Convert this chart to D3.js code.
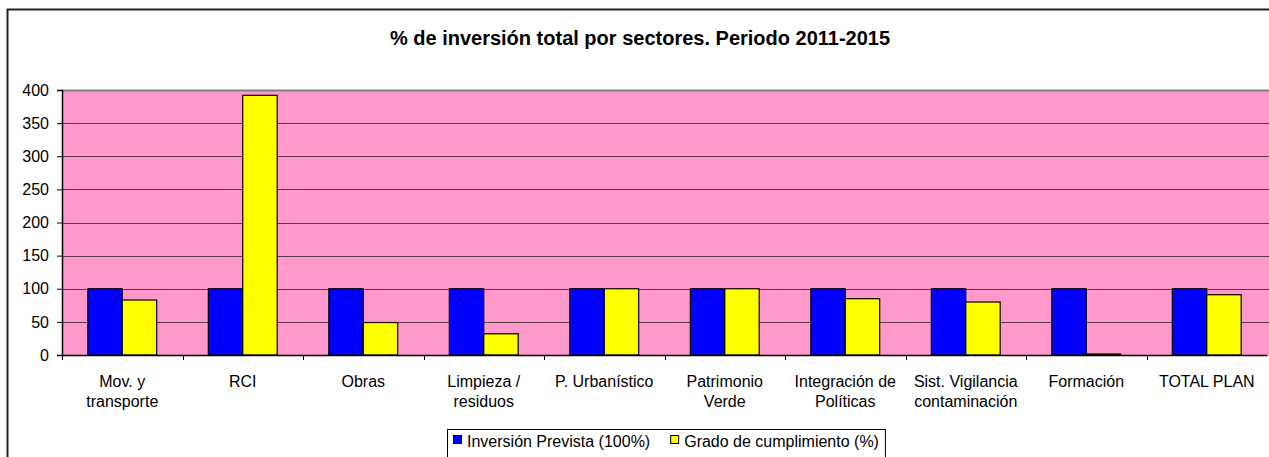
<!DOCTYPE html>
<html>
<head>
<meta charset="utf-8">
<script src="https://d3js.org/d3.v7.min.js"></script>
<style>
  body { margin: 0; background: #fff; }
  svg { display: block; font-family: "Liberation Sans", Arial, sans-serif; }
</style>
</head>
<body>
<div id="chart"></div>
<script>
// categories (x axis labels, split on \n)
var categories = ["Mov. y\ntransporte", "RCI", "Obras", "Limpieza /\nresiduos", "P. Urbanístico",
                  "Patrimonio\nVerde", "Integración de\nPolíticas", "Sist. Vigilancia\ncontaminación",
                  "Formación", "TOTAL PLAN"];

// series values
var prevista = [100, 100, 100, 100, 100, 100, 100, 100, 100, 100];
var cumplimiento = [83, 392, 49, 32, 100, 100, 85, 80, 1.5, 91];

var seriesNames = ["Inversión Prevista (100%)", "Grado de cumplimiento (%)"];
var seriesColors = ["#0000ff", "#ffff00"];
var yTicks = [0, 50, 100, 150, 200, 250, 300, 350, 400];

var W = 1269, H = 457;
var margin = {top: 90, right: 2, bottom: 102, left: 62},
    width = W - margin.left - margin.right,
    height = H - margin.top - margin.bottom;

var svg = d3.select("#chart")
  .append("svg")
    .attr("width", W)
    .attr("height", H);

// chart frame (left and top edges visible, rest runs off the picture)
svg.append("rect")
    .attr("x", 7.5)
    .attr("y", 9.5)
    .attr("width", W + 20)
    .attr("height", H + 20)
    .attr("fill", "none")
    .attr("stroke", "#222")
    .attr("stroke-width", 2);

svg.append("text")
    .attr("x", 640)
    .attr("y", 45)
    .attr("text-anchor", "middle")
    .style("font-weight", "bold")
    .style("font-size", "20px")
    .text("% de inversión total por sectores. Periodo 2011-2015");

var g = svg.append("g")
    .attr("transform", "translate(" + margin.left + "," + margin.top + ")");

var data = categories.map(function(c, i) {
  return {cat: c, values: [prevista[i], cumplimiento[i]]};
});

var x0 = d3.scaleBand()
    .domain(categories)
    .range([0, width])
    .paddingInner(0)
    .paddingOuter(0);

// gap width 150%: each bar is cat / 3.5
var barW = x0.bandwidth() / 3.5;
var x1 = d3.scaleBand()
    .domain([0, 1])
    .range([barW * 0.75, barW * 2.75]);

var y = d3.scaleLinear()
    .domain([0, 400])
    .range([height, 0]);

// plot background
g.append("rect")
    .attr("width", width + 10)
    .attr("height", height)
    .attr("fill", "#ff99cc");

// gridlines
g.selectAll(".grid")
  .data(yTicks.slice(1))
  .enter().append("line")
    .attr("x1", 0)
    .attr("x2", width + 10)
    .attr("y1", function(d) { return Math.round(y(d)) + 0.5; })
    .attr("y2", function(d) { return Math.round(y(d)) + 0.5; })
    .attr("stroke", d => d === 400 ? "#808080" : "#5a3a48")
    .attr("stroke-width", d => d === 400 ? 2 : 1);

// bars
var groups = g.selectAll(".grp")
  .data(data)
  .enter().append("g")
    .attr("transform", function(d) { return "translate(" + x0(d.cat) + ",0)"; });

groups.selectAll("rect")
  .data(function(d) { return d.values; })
  .enter().append("rect")
    .attr("x", function(d, i) { return x1(i); })
    .attr("y", function(d) { return y(d); })
    .attr("width", x1.bandwidth())
    .attr("height", function(d) { return height - y(d); })
    .attr("fill", function(d, i) { return seriesColors[i]; })
    .attr("stroke", "#000")
    .attr("stroke-width", 1.2);

// Y axis
var yAxis = g.append("g")
    .call(d3.axisLeft(y).tickValues(yTicks).tickSize(5).tickPadding(8));
yAxis.select(".domain").attr("stroke", "#000").attr("stroke-width", 1.5);
yAxis.selectAll("text").style("font-size", "16px").attr("fill", "#000")
    .attr("font-family", "Liberation Sans, Arial, sans-serif");

// X axis
var xAxis = g.append("g")
    .attr("transform", "translate(0," + height + ")")
    .call(d3.axisBottom(x0).tickSize(0).tickFormat(""));
xAxis.select(".domain").attr("stroke", "#000").attr("stroke-width", 1.5);

// category boundary ticks
g.selectAll(".xtick")
  .data(categories)
  .enter().append("line")
    .attr("x1", function(d) { return Math.round(x0(d)) + 0.5; })
    .attr("x2", function(d) { return Math.round(x0(d)) + 0.5; })
    .attr("y1", height)
    .attr("y2", height + 5)
    .attr("stroke", "#000");

var labels = g.selectAll(".xlab")
  .data(categories)
  .enter().append("text")
    .attr("text-anchor", "middle")
    .attr("transform", function(d) {
      return "translate(" + (x0(d) + x0.bandwidth() / 2) + "," + (height + 32) + ")";
    })
    .style("font-size", "16px");

labels.selectAll("tspan")
  .data(function(d) { return d.split("\n"); })
  .enter().append("tspan")
    .attr("x", 0)
    .attr("dy", function(d, i) { return i === 0 ? 0 : 20; })
    .text(function(d) { return d; });

// legend
var legend = svg.append("g")
    .attr("transform", "translate(447,429)");

var box = legend.append("rect")
    .attr("x", 0.5)
    .attr("y", 0.5)
    .attr("height", 40)
    .attr("fill", "#fff")
    .attr("stroke", "#000");

var lx = 6;
seriesNames.forEach(function(name, i) {
  legend.append("rect")
      .attr("x", lx + 0.5)
      .attr("y", 6.5)
      .attr("width", 8)
      .attr("height", 8)
      .attr("fill", seriesColors[i])
      .attr("stroke", "#000");
  var t = legend.append("text")
      .attr("x", lx + 14)
      .attr("y", 18)
      .style("font-size", "16px")
      .text(name);
  lx += 14 + t.node().getComputedTextLength() + (i === 0 ? 20 : 4);
});
box.attr("width", lx + 2);
</script>
</body>
</html>
